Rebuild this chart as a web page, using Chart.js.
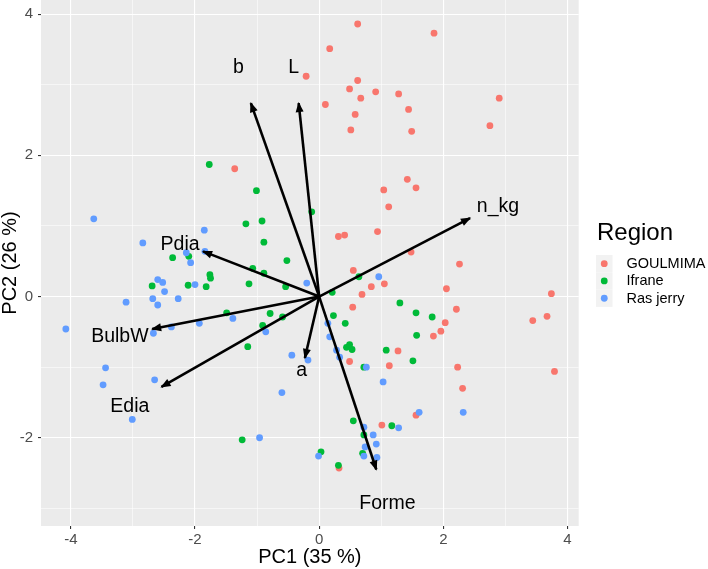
<!DOCTYPE html>
<html><head><meta charset="utf-8">
<script src="https://cdn.jsdelivr.net/npm/chart.js@4.4.1/dist/chart.umd.min.js"></script>
<style>html,body{margin:0;padding:0;background:#fff}#wrap{width:708px;height:569px}</style>
</head><body><div id="wrap"><canvas id="c" width="708" height="569"></canvas></div>
<script>
// ---------- data ----------
const regions = ['GOULMIMA', 'Ifrane', 'Ras jerry'];
const regionColors = ['#F8766D', '#00BA38', '#619CFF'];

const goulmimaX = [0.62,1.85,0.17,-0.21,0.62,0.49,0.91,1.28,0.67,2.90,0.10,1.44,0.58,2.75,0.51,1.49,-1.36,1.42,1.56,1.04,1.12,0.94,0.31,0.41,1.48,2.26,0.55,1.05,0.84,0.69,2.05,3.74,0.54,2.21,3.67,3.44,2.03,1.96,1.84,1.27,0.49,1.13,2.23,3.79,2.31,1.56,1.01,0.32];
const goulmimaY = [3.86,3.73,3.51,3.12,3.06,2.94,2.90,2.87,2.81,2.81,2.72,2.65,2.58,2.42,2.36,2.34,1.81,1.66,1.54,1.51,1.27,0.92,0.85,0.87,0.63,0.46,0.37,0.18,0.14,0.03,0.11,0.04,-0.15,-0.18,-0.28,-0.34,-0.37,-0.49,-0.56,-0.77,-0.92,-0.98,-1.00,-1.06,-1.30,-1.68,-1.82,-2.43];

const ifraneX = [-1.77,-1.01,-0.12,-1.18,-0.92,-0.89,-2.36,-2.10,-0.52,-1.07,-0.89,-1.76,-1.75,-2.69,-2.11,-1.13,-1.82,-0.54,0.64,0.21,-1.49,-0.79,-0.59,-0.91,-1.15,-1.24,0.03,1.30,0.23,1.56,1.82,0.42,1.57,0.44,0.49,0.53,1.08,1.51,0.72,0.55,1.17,0.72,0.70,0.31];
const ifraneY = [1.87,1.50,1.20,1.03,1.07,0.77,0.55,0.57,0.51,0.40,0.33,0.31,0.26,0.15,0.16,0.18,0.14,0.14,0.28,0.06,-0.23,-0.24,-0.29,-0.41,-0.71,-2.03,-2.20,-0.09,-0.27,-0.23,-0.29,-0.38,-0.55,-0.72,-0.68,-0.75,-0.76,-0.91,-1.00,-1.76,-1.83,-1.96,-2.22,-2.39];

const rasJerryX = [-3.63,-1.85,-2.84,-2.14,-1.84,-2.07,-2.60,-2.52,-2.00,-0.20,-2.49,-2.68,-2.27,-3.11,-2.60,-1.39,-1.93,-2.38,-4.08,-2.67,-0.86,-0.44,-0.18,-3.44,-3.48,-2.65,-0.60,-3.01,-0.96,-0.01,0.96,0.14,0.17,0.28,0.33,0.76,1.03,1.61,2.32,0.72,1.28,0.87,0.92,0.74,0.72,0.93];
const rasJerryY = [1.10,0.94,0.76,0.62,0.64,0.48,0.24,0.20,0.17,0.19,0.07,-0.03,-0.03,-0.08,-0.12,-0.31,-0.38,-0.43,-0.46,-0.52,-0.50,-0.83,-0.90,-1.01,-1.25,-1.18,-1.36,-1.74,-2.00,-2.26,0.28,-0.38,-0.57,-0.76,-0.86,-1.00,-1.21,-1.64,-1.64,-1.85,-1.86,-1.96,-2.09,-2.13,-2.26,-2.28];

// variable loadings (arrow tips) and their label anchors
const varNames = ['b', 'L', 'Pdia', 'n_kg', 'BulbW', 'Edia', 'a', 'Forme'];
const arrowX = [-1.10, -0.33, -1.87, 2.43, -2.69, -2.54, -0.23, 0.92];
const arrowY = [2.74, 2.74, 0.64, 1.11, -0.46, -1.28, -0.87, -2.45];
const labelX = [-1.30, -0.41, -2.24, 2.88, -3.21, -3.05, -0.28, 1.10];
const labelY = [3.16, 3.16, 0.66, 1.20, -0.65, -1.63, -1.13, -3.01];

const xLabelTicks = [-4, -2, 0, 2, 4];
const xGridTicks = [-4, -3, -2, -1, 0, 1, 2, 3, 4];
const yLabelTicks = [-2, 0, 2, 4];
const yGridTicks = [-3, -2, -1, 0, 1, 2, 3, 4];
const xRange = [-4.48, 4.18];
const yRange = [-3.25, 4.20];
const xTitle = 'PC1 (35 %)';
const yTitle = 'PC2 (26 %)';
const legendTitle = 'Region';

// ---------- chart ----------
const FONT = '"Liberation Sans", Arial, Helvetica, sans-serif';
const zip = (xs, ys) => xs.map((x, i) => ({x: x, y: ys[i]}));
const seriesX = [goulmimaX, ifraneX, rasJerryX];
const seriesY = [goulmimaY, ifraneY, rasJerryY];

const datasets = [];
varNames.forEach((n, i) => {
  datasets.push({
    type: 'line', label: n,
    data: [{x: 0, y: 0}, {x: arrowX[i], y: arrowY[i]}],
    borderColor: '#000', borderWidth: 2.6, pointRadius: 0, fill: false,
    borderCapStyle: 'butt', order: 0
  });
});
regions.forEach((r, i) => {
  datasets.push({
    type: 'scatter', label: r,
    data: zip(seriesX[i], seriesY[i]),
    backgroundColor: regionColors[i], borderColor: regionColors[i], borderWidth: 0,
    pointRadius: 3.4, pointHoverRadius: 3.4, order: 3 - i
  });
});

const bgPlugin = {
  id: 'panelBg',
  beforeDraw(chart) {
    const {ctx, chartArea: a} = chart;
    ctx.save();
    ctx.fillStyle = '#FFFFFF';
    ctx.fillRect(0, 0, chart.width, chart.height);
    ctx.fillStyle = '#EBEBEB';
    ctx.fillRect(a.left, a.top, a.right - a.left, a.bottom - a.top);
    ctx.restore();
  }
};

const arrowPlugin = {
  id: 'arrows',
  afterDatasetsDraw(chart) {
    const {ctx} = chart;
    const xs = chart.scales.x, ys = chart.scales.y;
    ctx.save();
    ctx.fillStyle = '#000';
    const x0 = xs.getPixelForValue(0), y0 = ys.getPixelForValue(0);
    varNames.forEach((n, i) => {
      const x1 = xs.getPixelForValue(arrowX[i]), y1 = ys.getPixelForValue(arrowY[i]);
      const ang = Math.atan2(y1 - y0, x1 - x0);
      const L = 9, W = 4;
      const bx = x1 - L * Math.cos(ang), by = y1 - L * Math.sin(ang);
      ctx.beginPath();
      ctx.moveTo(x1 + 1.2 * Math.cos(ang), y1 + 1.2 * Math.sin(ang));
      ctx.lineTo(bx + W * Math.sin(ang), by - W * Math.cos(ang));
      ctx.lineTo(bx - W * Math.sin(ang), by + W * Math.cos(ang));
      ctx.closePath();
      ctx.fill();
    });
    ctx.font = '19.5px ' + FONT;
    ctx.textAlign = 'center';
    ctx.textBaseline = 'alphabetic';
    varNames.forEach((n, i) => {
      ctx.fillText(n, xs.getPixelForValue(labelX[i]), ys.getPixelForValue(labelY[i]));
    });
    ctx.restore();
  }
};

const legendPlugin = {
  id: 'ggLegend',
  afterDraw(chart) {
    const {ctx} = chart;
    ctx.save();
    ctx.fillStyle = '#000';
    ctx.font = '24px ' + FONT;
    ctx.textAlign = 'left';
    ctx.textBaseline = 'alphabetic';
    ctx.fillText(legendTitle, 597, 240);
    const keyTop = 255, keyH = 17.3, keyL = 596, keyW = 16.5;
    regions.forEach((r, i) => {
      const cy = keyTop + keyH * i + keyH / 2;
      ctx.fillStyle = '#F2F2F2';
      ctx.fillRect(keyL, keyTop + keyH * i, keyW, keyH);
      ctx.fillStyle = regionColors[i];
      ctx.beginPath();
      ctx.arc(keyL + keyW / 2, cy, 3.4, 0, Math.PI * 2);
      ctx.fill();
      ctx.fillStyle = '#000';
      ctx.font = '14.5px ' + FONT;
      ctx.textBaseline = 'middle';
      ctx.fillText(r, 626.5, cy + 0.5);
    });
    ctx.restore();
  }
};

function axisCfg(range, gridTicks, labelTicks, title, isX) {
  return {
    type: 'linear', min: range[0], max: range[1],
    afterBuildTicks: s => { s.ticks = gridTicks.map(v => ({value: v})); },
    afterFit: s => {
      if (isX) { s.height = 43; s.paddingLeft = 0; s.paddingRight = 0; }
      else { s.width = 41; s.paddingTop = 0; s.paddingBottom = 0; }
    },
    ticks: {
      autoSkip: false, maxRotation: 0, minRotation: 0, padding: isX ? 2 : 5,
      color: '#4D4D4D', font: {family: FONT, size: 15},
      callback: v => labelTicks.includes(v) ? String(v) : ''
    },
    grid: {
      color: '#FFFFFF',
      lineWidth: c => (c.tick && labelTicks.includes(c.tick.value)) ? 1.1 : 0.55,
      tickLength: 3, tickWidth: 1.1,
      tickColor: c => (c.tick && labelTicks.includes(c.tick.value)) ? '#333333' : 'rgba(0,0,0,0)'
    },
    border: {display: false},
    title: {
      display: true, text: title, color: '#000',
      font: {family: FONT, size: 20, lineHeight: 1},
      padding: isX ? {top: 0, bottom: 2} : {top: 0, bottom: 0}
    }
  };
}

new Chart(document.getElementById('c'), {
  type: 'scatter',
  data: {datasets: datasets},
  options: {
    responsive: false, animation: false, devicePixelRatio: 1,
    layout: {autoPadding: false, padding: {left: 0, top: 0, right: 129.3, bottom: 0}},
    plugins: {legend: {display: false}, tooltip: {enabled: false}},
    scales: {
      x: axisCfg(xRange, xGridTicks, xLabelTicks, xTitle, true),
      y: axisCfg(yRange, yGridTicks, yLabelTicks, yTitle, false)
    }
  },
  plugins: [bgPlugin, arrowPlugin, legendPlugin]
});
</script>
</body></html>
